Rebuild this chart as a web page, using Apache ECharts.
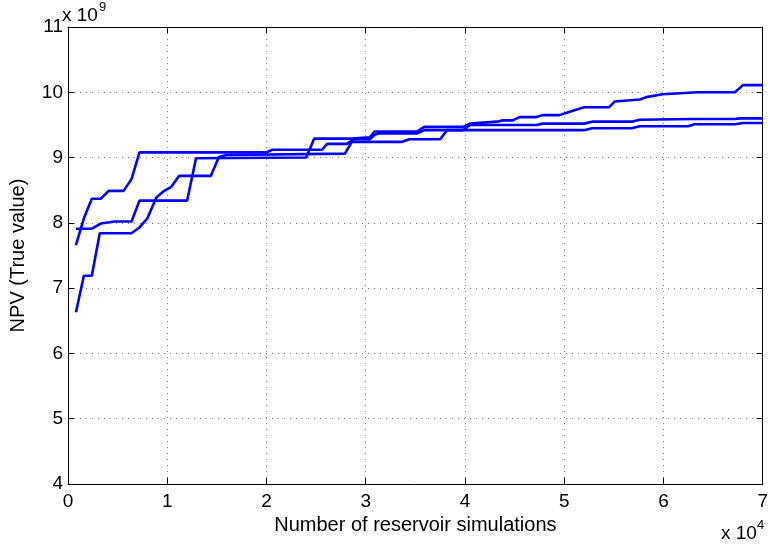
<!DOCTYPE html>
<html>
<head>
<meta charset="utf-8">
<script src="https://cdn.jsdelivr.net/npm/echarts@6/dist/echarts.min.js"></script>
<style>html,body{margin:0;padding:0;background:#fff}#c{width:771px;height:547px}</style>
</head>
<body>
<div id="c"></div>
<script>
// x in units of 10^4 simulations, y in units of 10^9
const xTicks = [0, 1, 2, 3, 4, 5, 6, 7];
const yTicks = [4, 5, 6, 7, 8, 9, 10, 11];

const runA = [[0.08,7.66],[0.16,8.07],[0.24,8.37],[0.33,8.37],[0.41,8.49],[0.56,8.49],[0.64,8.67],[0.72,9.08],[2.0,9.08],[2.06,9.12],[2.56,9.12],[2.61,9.21],[2.81,9.21],[2.88,9.28],[3.04,9.28],[3.09,9.35],[3.13,9.37],[3.52,9.37],[3.59,9.42],[3.98,9.42],[4.05,9.50],[4.72,9.50],[4.78,9.52],[5.2,9.52],[5.28,9.55],[5.68,9.55],[5.76,9.58],[6.3,9.59],[6.72,9.59],[6.77,9.60],[7.0,9.60]];

const runB = [[0.08,7.91],[0.24,7.91],[0.33,7.99],[0.47,8.02],[0.64,8.02],[0.72,8.34],[1.2,8.34],[1.29,8.99],[2.40,9.0],[2.48,9.29],[2.86,9.29],[3.04,9.31],[3.09,9.40],[3.52,9.40],[3.59,9.47],[3.98,9.47],[4.05,9.52],[4.32,9.55],[4.38,9.57],[4.48,9.57],[4.55,9.62],[4.72,9.62],[4.78,9.65],[4.95,9.65],[5.01,9.68],[5.11,9.73],[5.20,9.77],[5.45,9.77],[5.51,9.86],[5.76,9.89],[5.84,9.93],[5.99,9.97],[6.34,10.0],[6.72,10.0],[6.80,10.11],[7.0,10.11]];

const runC = [[0.08,6.63],[0.16,7.19],[0.24,7.19],[0.32,7.84],[0.64,7.84],[0.72,7.93],[0.80,8.07],[0.89,8.39],[0.97,8.49],[1.04,8.55],[1.12,8.72],[1.44,8.72],[1.52,9.01],[1.6,9.04],[2.79,9.06],[2.86,9.24],[3.36,9.24],[3.44,9.28],[3.75,9.28],[3.82,9.42],[5.2,9.42],[5.28,9.45],[5.68,9.45],[5.76,9.48],[6.25,9.48],[6.31,9.51],[6.72,9.51],[6.8,9.53],[7.0,9.53]];

const xLabel = 'Number of reservoir simulations';
const yLabel = 'NPV (True value)';
const xExp = '4';
const yExp = '9';

const FONT = '"Liberation Sans", Arial, Helvetica, sans-serif';
const chart = echarts.init(document.getElementById('c'), null, {renderer: 'canvas'});

function lineSeries(data) {
  return {type: 'line', data: data, showSymbol: false, symbol: 'none',
    lineStyle: {color: '#0000ff', width: 2.6}, animation: false, z: 5};
}
const grid = {left: 62, right: 5, top: 27, bottom: 63, containLabel: false};
const axLine = {show: true, onZero: false, lineStyle: {color: '#000', width: 1}};
const tick = {show: true, inside: true, length: 6, lineStyle: {color: '#000', width: 1}};
const split = {show: true, lineStyle: {color: '#808080', width: 1, type: [1, 5]}};

chart.setOption({
  backgroundColor: '#fff',
  animation: false,
  grid: grid,
  xAxis: [
    {type: 'value', min: xTicks[0], max: xTicks[xTicks.length-1], interval: 1, position: 'bottom',
      axisLine: axLine, axisTick: tick, splitLine: split,
      axisLabel: {color: '#000', fontSize: 19, fontFamily: FONT, margin: 8},
      name: xLabel, nameLocation: 'middle', nameGap: 28,
      nameTextStyle: {color: '#000', fontSize: 20, fontFamily: FONT}},
    {type: 'value', min: xTicks[0], max: xTicks[xTicks.length-1], interval: 1, position: 'top',
      axisLine: axLine, axisTick: tick, splitLine: {show: false}, axisLabel: {show: false}}
  ],
  yAxis: [
    {type: 'value', min: yTicks[0], max: yTicks[yTicks.length-1], interval: 1, position: 'left',
      axisLine: axLine, axisTick: tick, splitLine: split,
      axisLabel: {color: '#000', fontSize: 19, fontFamily: FONT, margin: 5},
      name: yLabel, nameLocation: 'middle', nameGap: 40, nameRotate: 90,
      nameTextStyle: {color: '#000', fontSize: 20, fontFamily: FONT}},
    {type: 'value', min: yTicks[0], max: yTicks[yTicks.length-1], interval: 1, position: 'right',
      axisLine: axLine, axisTick: tick, splitLine: {show: false}, axisLabel: {show: false}}
  ],
  series: [lineSeries(runA), lineSeries(runB), lineSeries(runC)],
  graphic: [
    {type: 'text', left: 62, top: 6, style: {text: 'x 10', fill: '#000', font: '19px ' + FONT}},
    {type: 'text', left: 99, top: 1, style: {text: yExp, fill: '#000', font: '13px ' + FONT}},
    {type: 'text', left: 721, top: 524, style: {text: 'x 10', fill: '#000', font: '19px ' + FONT}},
    {type: 'text', left: 757, top: 519, style: {text: xExp, fill: '#000', font: '13px ' + FONT}}
  ]
});
</script>
</body>
</html>
